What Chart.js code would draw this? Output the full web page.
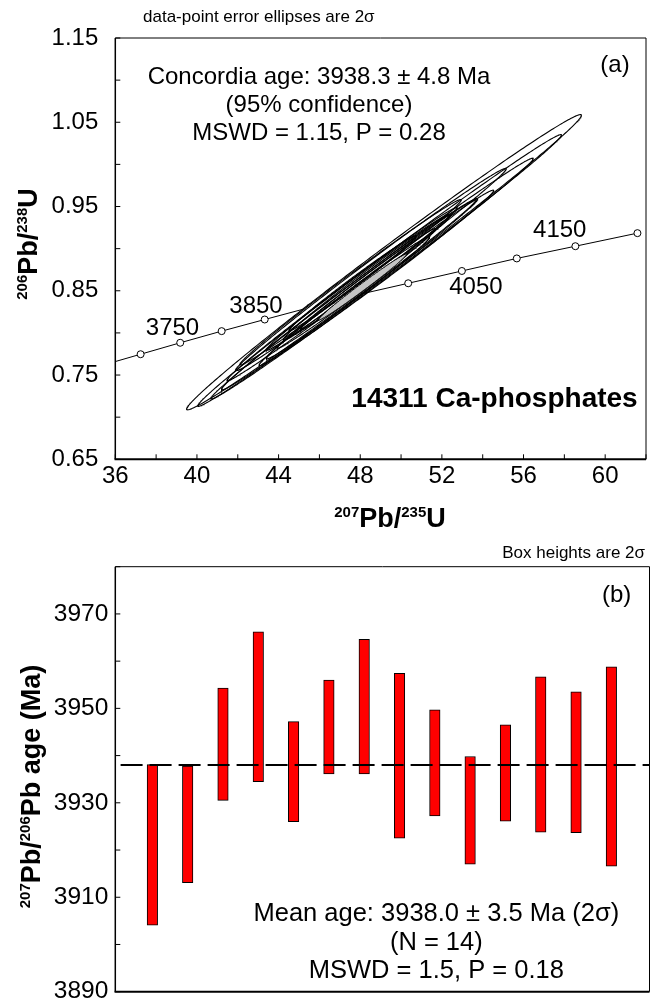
<!DOCTYPE html>
<html>
<head>
<meta charset="utf-8">
<script src="https://cdn.jsdelivr.net/npm/chart.js@4.4.0/dist/chart.umd.min.js"></script>
<style>
  html, body { margin: 0; padding: 0; background: #fff; overflow: hidden; width: 651px; height: 998px; }
  #wrapA { position: absolute; left: 0; top: 0; }
  #wrapB { position: absolute; left: 0; top: 540px; }
</style>
</head>
<body>
<div id="wrapA"><canvas id="chartA" width="651" height="540"></canvas></div>
<div id="wrapB"><canvas id="chartB" width="651" height="480"></canvas></div>
<script>
// (a) concordia curve (first point is where the curve enters at x = 36)
const concX = [36.0, 37.24, 39.18, 41.21, 43.32, 45.56, 47.92, 50.35, 52.98, 55.67, 58.54, 61.58];
const concY = [0.766, 0.7747, 0.7883, 0.8021, 0.8159, 0.8304, 0.8455, 0.8589, 0.8735, 0.8884, 0.9029, 0.9184];
const concAge = [null, 3700, 3750, 3800, 3850, 3900, 3950, 4000, 4050, 4100, 4150, 4200];
const concLabeled = [3750, 3850, 4050, 4150];

// (a) data-point ellipses: 207Pb/235U, 2s, 206Pb/238U, 2s, error correlation
const pb75 = [49.163, 48.949, 48.578, 48.520, 47.477, 47.526, 48.793, 48.072, 47.399, 48.325, 47.624, 46.931, 48.802, 48.384];
const pb75Err = [9.673, 8.911, 7.897, 6.631, 6.280, 5.422, 5.753, 4.681, 4.000, 4.097, 3.121, 5.461, 4.876, 3.317];
const pb68 = [0.8839, 0.8741, 0.8645, 0.8752, 0.8460, 0.8602, 0.8654, 0.8641, 0.8417, 0.8658, 0.8590, 0.8421, 0.8700, 0.8639];
const pb68Err = [0.1752, 0.1613, 0.1429, 0.1201, 0.1137, 0.0982, 0.1042, 0.0848, 0.0725, 0.0743, 0.0566, 0.0989, 0.0883, 0.0601];
const rho = [0.9950, 0.9965, 0.9965, 0.9955, 0.9955, 0.9950, 0.9955, 0.9950, 0.9935, 0.9935, 0.9930, 0.9955, 0.9955, 0.9935];

// concordia age ellipse (grey)
const concordiaEllipse = [48.11, 2.185, 0.8545, 0.0396, 0.9922];

// (b) 207Pb/206Pb ages, box bottom and top (2s)
const boxLow  = [3904.1, 3913.1, 3930.5, 3934.5, 3926.0, 3936.1, 3936.1, 3922.5, 3927.2, 3917.0, 3926.1, 3923.8, 3923.7, 3916.6];
const boxHigh = [3938.1, 3937.8, 3954.3, 3966.2, 3947.2, 3956.0, 3964.6, 3957.4, 3949.7, 3939.8, 3946.5, 3956.7, 3953.5, 3958.8];
const meanAge = 3938.0;

const FONT = '"Liberation Sans", Arial, Helvetica, sans-serif';

function ellipsePoints(cx, sx, cy, sy, r) {
  const pts = [];
  const k = Math.sqrt(1 - r * r);
  for (let i = 0; i <= 360; i++) {
    const t = i / 360 * 2 * Math.PI;
    pts.push({ x: cx + sx * Math.cos(t), y: cy + sy * (r * Math.cos(t) + k * Math.sin(t)) });
  }
  return pts;
}

function drawSupText(ctx, parts, x, y, mainSize, supSize) {
  const widths = parts.map(([t, sup]) => {
    ctx.font = `bold ${sup ? supSize : mainSize}px ${FONT}`;
    return ctx.measureText(t).width;
  });
  let cx = x - widths.reduce((a, b) => a + b, 0) / 2;
  ctx.textAlign = 'left';
  ctx.textBaseline = 'alphabetic';
  parts.forEach(([t, sup], i) => {
    ctx.font = `bold ${sup ? supSize : mainSize}px ${FONT}`;
    ctx.fillText(t, cx, sup ? y - 10 : y);
    cx += widths[i];
  });
}

function text(ctx, str, x, y, size, align, bold) {
  ctx.font = `${bold ? 'bold ' : ''}${size}px ${FONT}`;
  ctx.textAlign = align;
  ctx.textBaseline = 'alphabetic';
  ctx.fillText(str, x, y);
}

function drawFrame(ctx, area, xScale, yScale, xTicks) {
  ctx.save();
  ctx.strokeStyle = '#000';
  ctx.lineWidth = 1;
  ctx.beginPath();
  ctx.moveTo(area.left, area.top);
  ctx.lineTo(area.right, area.top);
  ctx.lineTo(area.right, area.bottom);
  ctx.stroke();
  ctx.lineWidth = 1.5;
  ctx.beginPath();
  ctx.moveTo(area.left, area.top);
  ctx.lineTo(area.left, area.bottom);
  ctx.stroke();
  ctx.lineWidth = 2;
  ctx.beginPath();
  ctx.moveTo(area.left - 0.75, area.bottom);
  ctx.lineTo(area.right, area.bottom);
  ctx.stroke();
  ctx.lineWidth = 1;
  ctx.beginPath();
  yScale.ticks.forEach(t => {
    const py = yScale.getPixelForValue(t.value);
    ctx.moveTo(area.left, py);
    ctx.lineTo(area.left + 5, py);
  });
  if (xTicks) {
    xScale.ticks.forEach(t => {
      const px = xScale.getPixelForValue(t.value);
      ctx.moveTo(px, area.bottom);
      ctx.lineTo(px, area.bottom - 5);
    });
  }
  ctx.stroke();
  ctx.restore();
}

// ---------- chart (a) ----------
const datasetsA = [];
datasetsA.push({
  label: 'concordia',
  data: concX.map((x, i) => ({ x, y: concY[i] })),
  showLine: true,
  borderColor: '#000',
  borderWidth: 1,
  pointRadius: concAge.map(a => (a ? 3.5 : 0)),
  pointBackgroundColor: '#fff',
  pointBorderColor: '#000',
  pointBorderWidth: 1,
  order: 30
});
pb75.forEach((x, i) => {
  datasetsA.push({
    label: 'ellipse ' + (i + 1),
    data: ellipsePoints(x, pb75Err[i], pb68[i], pb68Err[i], rho[i]),
    showLine: true,
    borderColor: '#000',
    borderWidth: 1.1,
    pointRadius: 0,
    fill: i === 0 ? 'shape' : false,
    backgroundColor: '#fff',
    order: i === 0 ? 20 : 10
  });
});
datasetsA.push({
  label: 'concordia age',
  data: ellipsePoints(...concordiaEllipse),
  showLine: true,
  borderColor: '#000',
  borderWidth: 1,
  pointRadius: 0,
  fill: 'shape',
  backgroundColor: '#c4c4c4',
  order: 1
});

const decorA = {
  id: 'decorA',
  afterDraw(chart) {
    const { ctx, chartArea: area, scales: { x, y } } = chart;
    drawFrame(ctx, area, x, y, true);
    ctx.save();
    ctx.fillStyle = '#000';
    text(ctx, 'data-point error ellipses are 2σ', 143, 22, 17, 'left');
    text(ctx, 'Concordia age: 3938.3 ± 4.8 Ma', 319, 84, 24, 'center');
    text(ctx, '(95% confidence)', 319, 112, 24, 'center');
    text(ctx, 'MSWD = 1.15, P = 0.28', 319, 140, 24, 'center');
    text(ctx, '(a)', 615, 72, 24, 'center');
    text(ctx, '14311 Ca-phosphates', 494.5, 407, 28, 'center', true);

    const offsets = { 3750: [-7.7, -7.4], 3850: [-8.7, -6.6], 4050: [14, 23.4], 4150: [-15.6, -9.3] };
    concLabeled.forEach(age => {
      const i = concAge.indexOf(age);
      const px = x.getPixelForValue(concX[i]);
      const py = y.getPixelForValue(concY[i]);
      text(ctx, String(age), px + offsets[age][0], py + offsets[age][1], 24, 'center');
    });

    drawSupText(ctx, [['207', true], ['Pb/', false], ['235', true], ['U', false]], 390, 527, 27, 15);
    ctx.save();
    ctx.translate(36.5, 244);
    ctx.rotate(-Math.PI / 2);
    drawSupText(ctx, [['206', true], ['Pb/', false], ['238', true], ['U', false]], 0, 0, 27, 15);
    ctx.restore();
    ctx.restore();
  }
};

new Chart(document.getElementById('chartA'), {
  type: 'scatter',
  data: { datasets: datasetsA },
  options: {
    responsive: false,
    animation: false,
    layout: { padding: { left: 0, top: 38, right: 1.5, bottom: 0 } },
    plugins: { legend: { display: false }, tooltip: { enabled: false } },
    scales: {
      x: {
        type: 'linear', min: 36, max: 62,
        grid: { display: false, drawTicks: false },
        border: { display: false },
        ticks: {
          stepSize: 2, autoSkip: false, maxRotation: 0, padding: 3,
          color: '#000', font: { family: FONT, size: 24 },
          callback: v => (v % 4 === 0 ? String(v) : '')
        },
        afterFit: s => { s.height = 540 - 459.3; }
      },
      y: {
        type: 'linear', min: 0.65, max: 1.15,
        grid: { display: false, drawTicks: false },
        border: { display: false },
        ticks: {
          stepSize: 0.05, autoSkip: false, padding: 17,
          color: '#000', font: { family: FONT, size: 24 },
          callback: v => (Math.round((v - 0.65) / 0.05) % 2 === 0 ? v.toFixed(2) : '')
        },
        afterFit: s => { s.width = 115.3; }
      }
    }
  },
  plugins: [decorA]
});

// ---------- chart (b) ----------
const decorB = {
  id: 'decorB',
  afterDraw(chart) {
    const { ctx, chartArea: area, scales: { x, y } } = chart;
    drawFrame(ctx, area, x, y, false);
    ctx.save();
    ctx.fillStyle = '#000';
    text(ctx, 'Box heights are 2σ', 645, 18, 17, 'right');
    text(ctx, '(b)', 616.7, 62, 24, 'center');
    text(ctx, 'Mean age: 3938.0 ± 3.5 Ma (2σ)', 436.3, 381, 25.5, 'center');
    text(ctx, '(N = 14)', 436.3, 409.5, 25.5, 'center');
    text(ctx, 'MSWD = 1.5, P = 0.18', 436.3, 438, 25.5, 'center');
    ctx.save();
    ctx.translate(40, 246.5);
    ctx.rotate(-Math.PI / 2);
    drawSupText(ctx, [['207', true], ['Pb/', false], ['206', true], ['Pb age (Ma)', false]], 0, 0, 27, 15);
    ctx.restore();
    ctx.restore();
  }
};

new Chart(document.getElementById('chartB'), {
  type: 'bar',
  data: {
    datasets: [
      {
        type: 'line',
        label: 'mean',
        data: [{ x: 0.1, y: meanAge }, { x: 15.08, y: meanAge }],
        borderColor: '#000',
        borderWidth: 2,
        borderDash: [22, 7],
        pointRadius: 0,
        order: 1
      },
      {
        type: 'bar',
        label: 'ages',
        data: boxLow.map((lo, i) => ({ x: i + 1, y: [lo, boxHigh[i]] })),
        backgroundColor: '#ff0000',
        borderColor: '#000',
        borderWidth: 1,
        borderSkipped: false,
        barThickness: 10.5,
        order: 2
      }
    ]
  },
  options: {
    responsive: false,
    animation: false,
    layout: { padding: { left: 0, top: 26.7, right: 1.5, bottom: 0 } },
    plugins: { legend: { display: false }, tooltip: { enabled: false } },
    scales: {
      x: {
        type: 'linear', min: -0.05, max: 15.08, offset: false,
        grid: { display: false, drawTicks: false, offset: false },
        border: { display: false },
        ticks: { display: false },
        afterFit: s => { s.height = 480 - 451.7; }
      },
      y: {
        type: 'linear', min: 3890, max: 3980,
        grid: { display: false, drawTicks: false },
        border: { display: false },
        ticks: {
          stepSize: 10, autoSkip: false, padding: 7,
          color: '#000', font: { family: FONT, size: 24.5 },
          callback: v => ((v - 3890) % 20 === 0 ? String(v) : '')
        },
        afterFit: s => { s.width = 115.3; }
      }
    }
  },
  plugins: [decorB]
});
</script>
</body>
</html>
